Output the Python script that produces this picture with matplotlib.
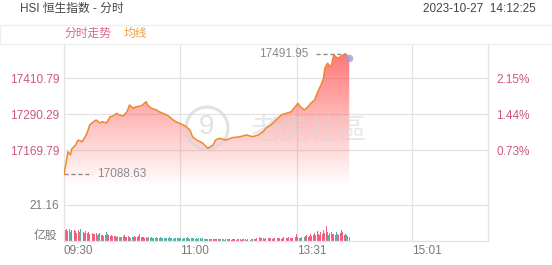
import numpy as np
import matplotlib
matplotlib.use("Agg")
import matplotlib.pyplot as plt
from matplotlib.patches import Ellipse, Rectangle, PathPatch

plt.rcParams['font.family'] = ['Liberation Sans', 'Noto Sans CJK SC']

# ---- data ----
prev_close = 17044.61
minutes = [0, 2, 3, 5, 6, 9, 11, 14, 16, 18, 20, 23, 25, 28, 30, 33, 36, 38, 41, 43,
           46, 49, 51, 54, 56, 60, 64, 65, 68, 72, 74, 77, 80, 82, 85, 87, 90, 93, 95, 98,
           100, 103, 106, 108, 112, 116, 118, 121, 126, 131, 137, 142, 147, 151, 155, 157,
           161, 165, 169, 173, 177, 179, 182, 184, 187, 190, 192, 195, 197, 200, 202, 203,
           205, 208, 209, 210, 213, 215, 219, 221, 222]
prices = [17088.63, 17136.3, 17164.1, 17153.1, 17173.2, 17186.5, 17203.3, 17197.6, 17210.0, 17226.7,
          17253.5, 17264.5, 17270.2, 17260.2, 17264.5, 17260.2, 17281.3, 17283.6, 17292.6, 17287.0,
          17283.6, 17298.0, 17320.4, 17309.4, 17314.7, 17317.1, 17331.5, 17320.4, 17309.4, 17303.7,
          17298.0, 17292.6, 17287.0, 17281.3, 17270.2, 17264.5, 17259.2, 17253.5, 17247.8, 17236.8,
          17214.3, 17203.3, 17197.6, 17192.2, 17175.5, 17186.5, 17203.3, 17209.0, 17203.3, 17211.0,
          17214.3, 17220.0, 17214.3, 17220.0, 17231.1, 17242.4, 17253.5, 17270.2, 17287.0, 17292.6,
          17298.0, 17309.4, 17326.1, 17314.7, 17303.7, 17314.7, 17326.1, 17337.2, 17359.6, 17387.4,
          17409.8, 17443.3, 17460.0, 17448.6, 17471.1, 17487.8, 17476.7, 17482.1, 17491.95, 17482.1,
          17476.7]

# volume per minute, 100M shares (亿股)
volume = [
    30.2, 6.5, 7.2, 6.0, 6.8, 5.5, 6.3, 5.0, 6.6, 5.8,
    4.9, 6.2, 5.4, 6.9, 7.1, 5.2, 4.8, 5.9, 4.6, 5.3,
    4.4, 5.0, 4.7, 4.2, 3.9, 4.5, 3.6, 4.0, 4.8, 3.4,
    3.8, 3.2, 3.5, 5.1, 3.9, 3.3, 2.9, 3.6, 3.1, 2.7,
    3.2, 2.5, 2.8, 2.3, 2.6, 2.2, 2.9, 3.8, 2.5, 2.1,
    2.7, 2.4, 2.0, 2.6, 2.3, 3.0, 2.2, 2.5, 2.8, 4.2,
    2.4, 2.1, 2.6, 2.0, 2.3, 1.9, 2.2, 1.8, 2.4, 1.7,
    2.0, 1.6, 2.1, 1.9, 1.5, 2.3, 1.8, 1.6, 2.0, 1.7,
    1.5, 1.9, 2.2, 1.6, 1.8, 1.4, 2.0, 1.7, 1.5, 1.8,
    1.6, 1.9, 1.4, 1.7, 1.5, 1.8, 2.1, 1.6, 1.4, 1.7,
    1.5, 1.8, 1.3, 1.6, 1.4, 1.7, 1.5, 1.3, 1.6, 1.2,
    1.4, 1.1, 1.3, 1.0, 1.2, 1.4, 0.9, 1.1, 1.3, 1.0,
    1.2, 0.9, 1.1, 1.3, 1.0, 0.8, 1.2, 1.0, 0.9, 1.1,
    0.8, 1.0, 1.2, 0.9, 0.8, 1.1, 0.9, 1.0, 0.8, 1.2,
    0.9, 1.0, 0.8, 1.1, 0.9, 0.8, 1.0, 1.2, 1.4, 1.3,
    1.6, 5.3, 2.4, 1.8, 1.5, 1.9, 1.4, 1.7, 1.3, 1.6,
    1.5, 1.8, 1.4, 1.7, 2.0, 1.6, 1.5, 1.9, 1.7, 1.4,
    1.8, 2.1, 1.6, 1.5, 1.9, 2.2, 1.7, 1.6, 2.0, 1.8,
    2.3, 3.9, 2.6, 2.0, 1.7, 2.4, 2.9, 2.2, 2.7, 3.4,
    2.5, 3.1, 4.2, 3.0, 3.6, 4.8, 3.3, 5.9, 4.1, 3.5,
    5.2, 4.4, 6.3, 4.9, 8.6, 5.4, 3.8, 4.6, 5.5, 3.9,
    4.3, 3.6, 5.0, 4.1, 3.4, 4.5, 6.6, 5.2, 3.8, 4.0,
    3.3, 2.9, 2.6,
]

price_ticks = [17169.79, 17290.29, 17410.79]
vol_tick = 21.16
time_ticks = [0, 90, 181, 271]
time_labels = ['09:30', '11:00', '13:31', '15:01']
day_low = 17088.63
day_high = 17491.95

# ---- style ----
W, H = 552, 265
grid_c = '#e3e3e3'
pink = '#c9587a'
gray = '#7a7a7a'
line_c = '#f0882c'
up_c = '#f0607e'
down_c = '#52b3a6'

fig = plt.figure(figsize=(W / 100, H / 100), dpi=100)


def box(x0, y0, x1, y1):
    # pixel box (top-left origin) -> figure fraction rect
    return [x0 / W, 1 - y1 / H, (x1 - x0) / W, (y1 - y0) / H]


ax = fig.add_axes(box(64, 44, 488, 186))
axv = fig.add_axes(box(64, 186, 488, 241))

ylo, yhi = 17049.29, 17524.6
for a in (ax, axv):
    a.set_xlim(0, 330)
    for s in a.spines.values():
        s.set_color(grid_c)
        s.set_linewidth(0.9)
    a.tick_params(length=0)
    for t in time_ticks[1:]:
        a.axvline(t, color=grid_c, lw=0.9, zorder=0)
ax.spines['bottom'].set_visible(False)
ax.spines['top'].set_visible(False)
axv.spines['top'].set_visible(False)

# price pane
ax.set_ylim(ylo, yhi)
ax.set_yticks(price_ticks)
ax.set_yticklabels([f'{v:.2f}' for v in price_ticks], color=pink, fontsize=8.5)
ax.set_xticks([])
for v in price_ticks:
    ax.axhline(v, color=grid_c, lw=0.9, zorder=0)

axr = ax.twinx()
axr.set_ylim(ylo, yhi)
axr.set_yticks(price_ticks)
axr.set_yticklabels([f'{(v / prev_close - 1) * 100:.2f}%' for v in price_ticks],
                    color=pink, fontsize=8.5)
axr.tick_params(length=0, pad=6)
for s in axr.spines.values():
    s.set_visible(False)

# gradient fill under the line
grad = np.linspace(0, 1, 256)
rgba = np.zeros((256, 1, 4))
rgba[:, 0, 0] = 1.0
rgba[:, 0, 1] = 0.33
rgba[:, 0, 2] = 0.33
rgba[:, 0, 3] = 0.85 * grad
im = ax.imshow(rgba, extent=[0, max(minutes), ylo, yhi], origin='lower',
               aspect='auto', zorder=1, interpolation='bilinear')
fill = ax.fill_between(minutes, prices, ylo, color='none', lw=0)
clip = PathPatch(fill.get_paths()[0], transform=ax.transData, fc='none', ec='none')
ax.add_patch(clip)
im.set_clip_path(clip)
ax.set_xlim(0, 330)
ax.set_ylim(ylo, yhi)

# watermark, between fill and line
wm = dict(transform=fig.transFigure, clip_on=False, zorder=2)
ax.add_patch(Ellipse((207 / W, 1 - 128 / H), 42 / W, 42 / H, fc='none', ec='#d6d6d6',
                     lw=2.2, alpha=0.7, **wm))
ax.text(207 / W, 1 - 127 / H, '9', fontsize=20, color='#d6d6d6', alpha=0.7,
        ha='center', va='center', **wm)
ax.text(308 / W, 1 - 131 / H, '老虎社區', fontsize=21, color='#d6d6d6', alpha=0.55,
        ha='center', va='center', **wm)

ax.plot(minutes, prices, color=line_c, lw=1.1, zorder=3)
ax.scatter([minutes[-1]], [prices[-1]], s=30, color='#a79ad8', alpha=0.8, zorder=4, lw=0)

# day low / high markers
ax.plot([0, 22], [day_low, day_low], ls=(0, (3, 2)), color='#8a8a8a', lw=1, zorder=4)
ax.text(26, day_low, f'{day_low:.2f}', color='#8a8a8a', fontsize=8.5, va='center', ha='left')
ihi = prices.index(day_high)
ax.plot([196, minutes[ihi]], [day_high, day_high], ls=(0, (3, 2)), color='#8a8a8a', lw=1, zorder=4)
ax.text(190, day_high, f'{day_high:.2f}', color='#8a8a8a', fontsize=8.5, va='center', ha='right')

# volume pane
x_min = np.arange(len(volume))
ref = np.interp(x_min, minutes, prices)
prev = np.concatenate([[prev_close], ref[:-1]])
cols = [up_c if r >= p else down_c for r, p in zip(ref, prev)]
axv.bar(x_min, volume, width=0.75, color=cols, zorder=2, lw=0)
axv.set_ylim(0, 32.3)
axv.axhline(vol_tick, color=grid_c, lw=0.9, zorder=0)
axv.set_yticks([vol_tick])
axv.set_yticklabels([f'{vol_tick:.2f}'], color=gray, fontsize=8.5)
axv.text(-0.015, 0.1, '亿股', transform=axv.transAxes, ha='right', va='center',
         color=gray, fontsize=8.5)
axv.set_xticks(time_ticks)
axv.set_xticklabels(time_labels, color=gray, fontsize=8.5, ha='left')
axv.tick_params(axis='x', pad=3)

# header
fig.text(20 / W, 1 - 9 / H, 'HSI 恒生指数 - 分时', fontsize=8.5, color='#444444', va='center')
fig.text(536 / W, 1 - 9 / H, '2023-10-27  14:12:25', fontsize=8.5, color='#444444',
         va='center', ha='right')
fig.add_artist(Rectangle((0, 1 - 44 / H), 1, 19 / H, transform=fig.transFigure,
                         fc='white', ec='#eeeeee', lw=0.9))
fig.text(64 / W, 1 - 34 / H, '分时走势', fontsize=8.5, color='#d9668a', va='center')
fig.text(124 / W, 1 - 34 / H, '均线', fontsize=8.5, color='#f0a040', va='center')

fig.savefig('out.png', dpi=100)
